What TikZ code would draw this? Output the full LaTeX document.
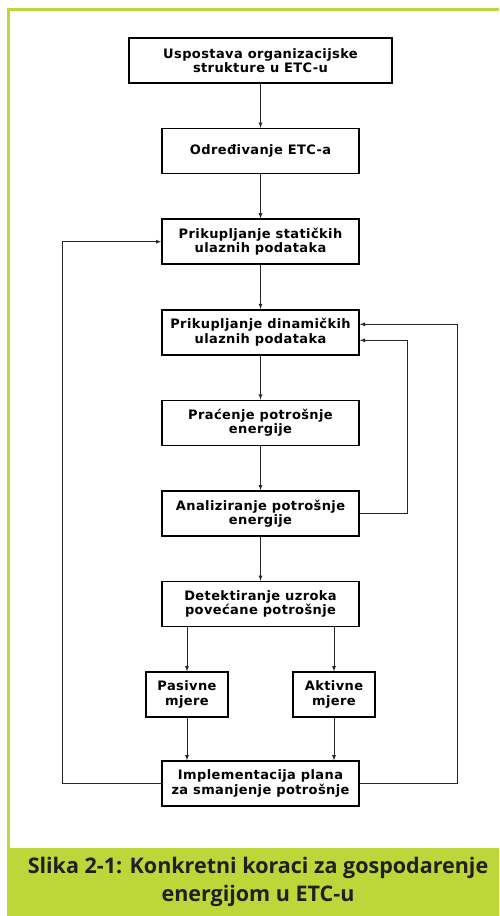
\documentclass[tikz,border=0pt]{standalone}
\usepackage{fontspec}
\setmainfont{DejaVu Sans}[LetterSpace=3]
\newfontfamily\captionfont{Open Sans}
\usetikzlibrary{positioning}

\definecolor{frame green}{HTML}{BDD63A}
\definecolor{caption text}{HTML}{231F20}

\tikzset{
  korak/.style={draw, line width=1.6pt, fill=white, align=center,
    minimum width=197pt, minimum height=45pt, inner sep=2pt,
    font=\fontsize{13}{14.5}\selectfont\bfseries},
  mjera/.style={korak, minimum width=82pt},
  tok/.style={->, >=latex, line width=0.8pt, draw=black!85},
}

\begin{document}
\begin{tikzpicture}[x=1pt,y=1pt]
\useasboundingbox (0,0) rectangle (499,-916);
% okvir i natpis
\draw[frame green, line width=3pt] (499,-9.5) -- (8.5,-9.5) -- (8.5,-848);
\fill[frame green] (7,-848) rectangle (499,-916);
\node[font=\captionfont\fontsize{21.5}{28}\selectfont\bfseries, text=caption text, align=center]
  (cap) at (258,-882) {Slika 2-1: Konkretni koraci za gospodarenje\\energijom u ETC-u};

% koraci
\node[korak, minimum width=263pt] (usp) at (260.5,-60.5) {Uspostava organizacijske\\strukture u ETC-u};
\node[korak, below=44pt of usp] (odr) {Određivanje ETC-a};
\node[korak, below=44pt of odr] (stat) {Prikupljanje statičkih\\ulaznih podataka};
\node[korak, below=44pt of stat] (din) {Prikupljanje dinamičkih\\ulaznih podataka};
\node[korak, below=44pt of din] (prac) {Praćenje potrošnje\\energije};
\node[korak, below=44pt of prac] (anal) {Analiziranje potrošnje\\energije};
\node[korak, below=44pt of anal] (det) {Detektiranje uzroka\\povećane potrošnje};
\node[mjera, below=44pt of det, xshift=-73.5pt] (pas) {Pasivne\\mjere};
\node[mjera, below=44pt of det, xshift=73.5pt] (akt) {Aktivne\\mjere};
\node[korak, below=133pt of det] (impl) {Implementacija plana\\za smanjenje potrošnje};

% veze
\draw[tok] (usp) -- (odr);
\draw[tok] (odr) -- (stat);
\draw[tok] (stat) -- (din);
\draw[tok] (din) -- (prac);
\draw[tok] (prac) -- (anal);
\draw[tok] (anal) -- (det);
\draw[tok] (det.south -| pas) -- (pas);
\draw[tok] (det.south -| akt) -- (akt);
\draw[tok] (pas) -- (impl.north -| pas);
\draw[tok] (akt) -- (impl.north -| akt);
\draw[tok] (impl.west) -- ++(-99pt,0) |- (stat.west);
\draw[tok] (impl.east) -- ++(98pt,0) |- ([yshift=8pt]din.east);
\draw[tok] (anal.east) -- ++(48pt,0) |- ([yshift=-8pt]din.east);
\end{tikzpicture}
\end{document}
